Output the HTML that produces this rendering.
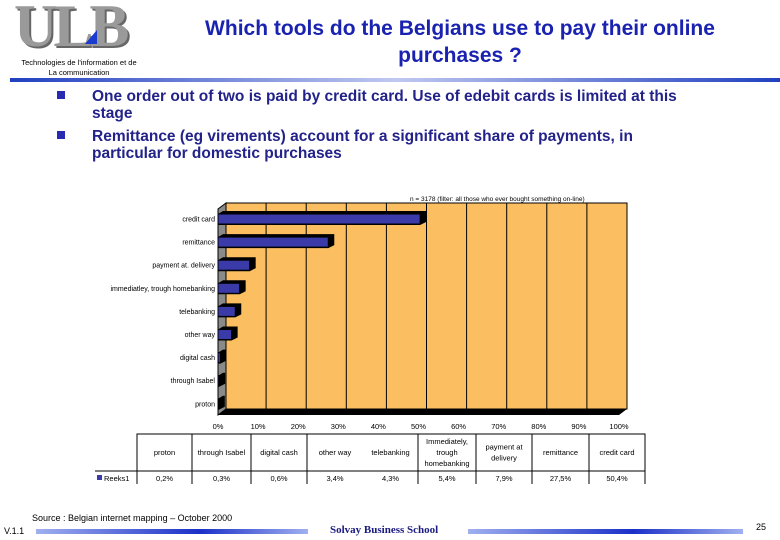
<!DOCTYPE html>
<html><head><meta charset="utf-8">
<style>
body{margin:0;width:780px;height:540px;background:#fff;overflow:hidden;font-family:"Liberation Sans",Arial,sans-serif;position:relative}
.abs{position:absolute}
</style></head><body>
<div class="abs" style="left:14px;top:0;width:130px;height:52px;font-family:'Liberation Serif',serif;font-weight:bold;font-size:60px;line-height:52px;color:#9a9a9a;letter-spacing:-4px;text-shadow:2px 2px 0 #666">ULB</div>
<div class="abs" style="left:85px;top:30px;width:0;height:0;border-left:12px solid transparent;border-bottom:14px solid #1a3ad0"></div>
<div class="abs" style="left:4px;top:58px;width:150px;text-align:center;font-size:7.5px;line-height:10px;color:#000">Technologies de l'information et de<br>La communication</div>
<div class="abs" style="left:160px;top:15px;width:600px;text-align:center;font-size:21px;font-weight:bold;color:#1a22b0;line-height:27px">Which tools do the Belgians use to pay their online<br>purchases ?</div>
<div class="abs" style="left:10px;top:78px;width:770px;height:4px;background:linear-gradient(90deg,#2040c0,#c0c8f0 50%,#2040c0)"></div>
<div class="abs" style="left:57px;top:91px;width:8px;height:8px;background:#2a2ab0"></div>
<div class="abs" style="left:92px;top:88px;width:620px;font-size:15.5px;font-weight:bold;line-height:17px;color:#22228a">One order out of two is paid by credit card. Use of edebit cards is limited at this stage</div>
<div class="abs" style="left:57px;top:131px;width:8px;height:8px;background:#2a2ab0"></div>
<div class="abs" style="left:92px;top:128px;width:600px;font-size:15.5px;font-weight:bold;line-height:17px;color:#22228a">Remittance (eg virements) account for a significant share of payments, in particular for domestic purchases</div>

<svg class="abs" style="left:0;top:0" width="780" height="540" id="chart"></svg>

<div class="abs" style="left:32px;top:513px;font-size:9px;color:#000">Source : Belgian internet mapping – October 2000</div>
<div class="abs" style="left:4px;top:526px;font-size:9px;color:#000">V.1.1</div>
<div class="abs" style="left:36px;top:529px;width:272px;height:5px;background:linear-gradient(90deg,#a0b0f0,#1a30c8 60%,#a0b0f0)"></div>
<div class="abs" style="left:330px;top:524px;font-family:'Liberation Serif',serif;font-weight:bold;font-size:11px;color:#1a1a80">Solvay Business School</div>
<div class="abs" style="left:468px;top:529px;width:275px;height:5px;background:linear-gradient(90deg,#a0b0f0,#1a30c8 60%,#a0b0f0)"></div>
<div class="abs" style="left:756px;top:522px;font-size:9px;color:#000">25</div>

<script>
const categories=["credit card","remittance","payment at delivery","immediately, trough homebanking","telebanking","other way","digital cash","through Isabel","proton"];
const barLabels=["credit card","remittance","payment at. delivery","immediatley, trough homebanking","telebanking","other way","digital cash","through Isabel","proton"];
const values=[50.4,27.5,7.9,5.4,4.3,3.4,0.6,0.3,0.2];
const tickLabels=["0%","10%","20%","30%","40%","50%","60%","70%","80%","90%","100%"];
const tableCats=["proton","through Isabel","digital cash","other way","telebanking","Immediately, trough homebanking","payment at delivery","remittance","credit card"];
const tableVals=["0,2%","0,3%","0,6%","3,4%","4,3%","5,4%","7,9%","27,5%","50,4%"];

const svg=document.getElementById('chart');
const NS='http://www.w3.org/2000/svg';
function mk(t,a,txt){const e=document.createElementNS(NS,t);for(const k in a)e.setAttribute(k,a[k]);if(txt!==undefined)e.textContent=txt;svg.appendChild(e);return e;}
const x0=218,x1=619,dx=8,dy=-6,yTop=203,yBot=415;
const xs=v=>x0+(x1-x0)*v/100;
const yc=i=>219+i*23.1;
let e;
e=mk('polygon',{points:`${x0+dx},${yTop} ${x1+dx},${yTop} ${x1+dx},${yBot+dy} ${x0+dx},${yBot+dy}`,fill:'#fbbf62',stroke:'#000','stroke-width':1});

e=mk('polygon',{points:`${x0},${yTop-dy} ${x0+dx},${yTop} ${x0+dx},${yBot+dy} ${x0},${yBot}`,fill:'#8a8a8a',stroke:'#000','stroke-width':1});

e=mk('polygon',{points:`${x0},${yBot} ${x0+dx},${yBot+dy} ${x1+dx},${yBot+dy} ${x1},${yBot}`,fill:'#000'});

tickLabels.forEach((t,i)=>{const v=i*10;
 e=mk('line',{x1:xs(v)+dx,y1:yTop,x2:xs(v)+dx,y2:yBot+dy,stroke:'#000','stroke-width':1});
 
 e=mk('text',{x:xs(v),y:429,'font-size':7.5,'text-anchor':'middle',fill:'#000'},t);
 
});
values.forEach((v,i)=>{const y=yc(i),h=10;const xe=xs(v);
 e=mk('polygon',{points:`${x0},${y-h/2} ${x0+5},${y-h/2-3} ${xe+6},${y-h/2-3} ${xe+6},${y+h/2-2} ${xe},${y+h/2+1} ${x0},${y+h/2+1}`,fill:'#000'});
 
 e=mk('rect',{x:x0,y:y-h/2,width:Math.max(xe-x0,1),height:h,fill:'#3a3aa8',stroke:'#000','stroke-width':1});
 
 e=mk('text',{x:215,y:y+2.5,'font-size':7,'text-anchor':'end',fill:'#000'},barLabels[i]);
 
});
e=mk('text',{x:410,y:201,'font-size':6.5,fill:'#000'},'n = 3178 (filter: all those who ever bought something on-line)');

const tb=[137,192,251,307,363,418,476,532,589,645];
e=mk('polyline',{points:`137,484 137,434 645,434 645,484`,fill:'none',stroke:'#000','stroke-width':1});

e=mk('line',{x1:95,y1:471,x2:645,y2:471,stroke:'#000','stroke-width':1});

tb.slice(1,-1).forEach((x,i)=>{if(i===3)return;
 e=mk('line',{x1:x,y1:434,x2:x,y2:484,stroke:'#000','stroke-width':1});
 });
tableCats.forEach((c,i)=>{const cx=(tb[i]+tb[i+1])/2;
 const lines=c==="Immediately, trough homebanking"?["Immediately,","trough","homebanking"]:c==="payment at delivery"?["payment at","delivery"]:[c];
 lines.forEach((l,j)=>{e=mk('text',{x:cx,y:455+(j-(lines.length-1)/2)*11,'font-size':7.5,'text-anchor':'middle',fill:'#000'},l);
  });
 e=mk('text',{x:cx,y:481,'font-size':7.5,'text-anchor':'middle',fill:'#000'},tableVals[i]);
 
});
e=mk('rect',{x:97,y:475,width:5,height:5,fill:'#3a3aa8'});

e=mk('text',{x:104,y:481,'font-size':7.5,fill:'#000'},'Reeks1');

</script>
</body></html>
